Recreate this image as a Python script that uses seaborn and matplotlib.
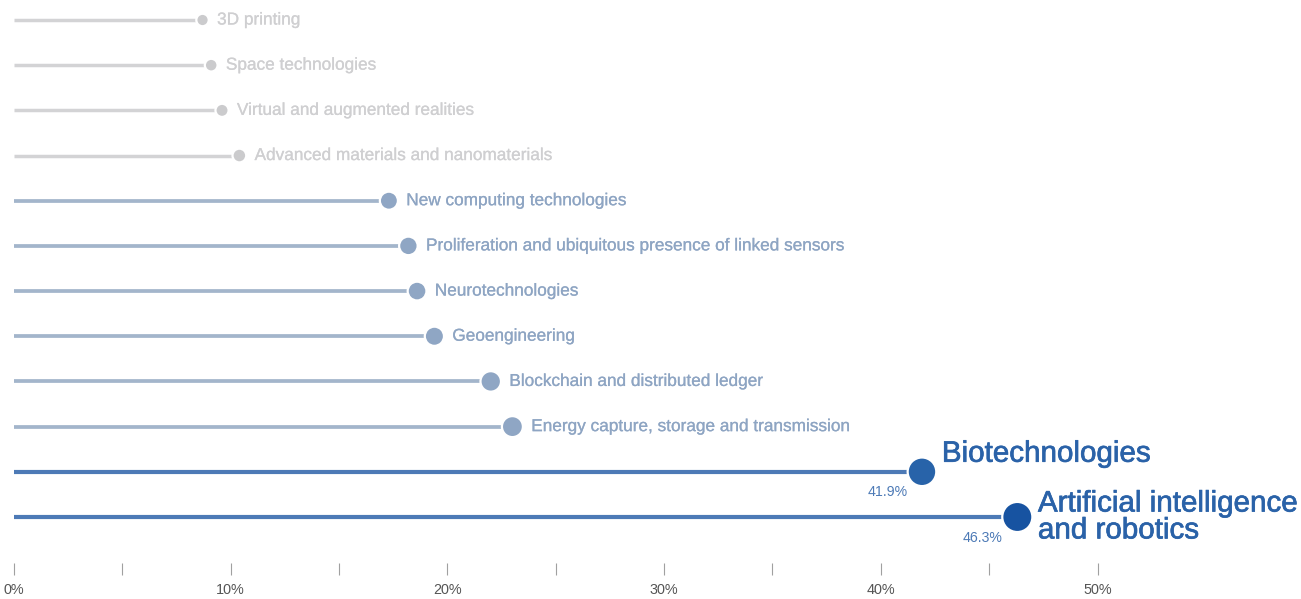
import numpy as np
import pandas as pd
import seaborn as sns
import matplotlib.pyplot as plt
import matplotlib.patheffects as pe

# data (share of respondents, %)
technologies = [
    "3D printing",
    "Space technologies",
    "Virtual and augmented realities",
    "Advanced materials and nanomaterials",
    "New computing technologies",
    "Proliferation and ubiquitous presence of linked sensors",
    "Neurotechnologies",
    "Geoengineering",
    "Blockchain and distributed ledger",
    "Energy capture, storage and transmission",
    "Biotechnologies",
    "Artificial intelligence\nand robotics",
]
shares = [8.7, 9.1, 9.6, 10.4, 17.3, 18.2, 18.6, 19.4, 22.0, 23.0, 41.9, 46.3]
groups = ["minor"] * 4 + ["middle"] * 6 + ["top", "lead"]
value_labels = {"Biotechnologies": "41.9%", "Artificial intelligence\nand robotics": "46.3%"}
x_ticks = [0, 5, 10, 15, 20, 25, 30, 35, 40, 45, 50]
x_tick_labels = ["0%", "", "10%", "", "20%", "", "30%", "", "40%", "", "50%"]

df = pd.DataFrame({"tech": technologies, "share": shares, "group": groups})
df["row"] = np.arange(len(df))

dot_colors = {"minor": "#cbcbcd", "middle": "#8fa6c4", "top": "#2863a9", "lead": "#1753a1"}
line_colors = {"minor": "#d3d3d5", "middle": "#a3b5cb", "top": "#4d7ab6", "lead": "#4d7ab6"}
line_widths = {"minor": 2.5, "middle": 2.7, "top": 3.0, "lead": 3.0}
text_colors = {"minor": "#cfcfd1", "middle": "#8ea5c3", "top": "#2a62a8", "lead": "#2a62a8"}

size_range = (80, 470)

sns.set_theme(style="white")
plt.rcParams["font.family"] = ["Liberation Sans", "DejaVu Sans"]

fig = plt.figure(figsize=(13.01, 5.99), dpi=100)
ax = fig.add_axes([0, 36 / 599, 1, 563 / 599])

# stems
for _, r in df.iterrows():
    ax.hlines(r["row"], 0, r["share"], color=line_colors[r["group"]],
              linewidth=line_widths[r["group"]], zorder=1)

# dots (white edge gives the small gap after each stem)
sns.scatterplot(data=df, x="share", y="row", hue="group", palette=dot_colors,
                size="share", sizes=size_range, legend=False,
                edgecolor="white", linewidth=1.6, zorder=3, ax=ax)

# labels
vmin, vmax = min(shares), max(shares)
for _, r in df.iterrows():
    area = np.interp(r["share"], [vmin, vmax], size_range)
    rad = np.sqrt(area) / 2  # points
    big = r["group"] in ("top", "lead")
    dy = 13 if r["group"] == "top" else 0
    col = text_colors[r["group"]]
    ax.annotate(r["tech"], (r["share"], r["row"]),
                xytext=(rad + (4 if big else 6), dy), textcoords="offset points",
                ha="left", va="center", fontsize=21.3 if big else 12.4,
                color=col, linespacing=0.95,
                path_effects=[pe.withStroke(linewidth=0.5 if big else 0.15, foreground=col)])
    if r["tech"] in value_labels:
        ax.annotate(value_labels[r["tech"]], (r["share"], r["row"]),
                    xytext=(-rad, -rad - 4), textcoords="offset points",
                    ha="right", va="center", fontsize=10.2, color="#4d7ab6")

ax.set_xlim(-14 / 21.67, (1301 - 14) / 21.67)
ax.set_ylim((563 - 20) / 45.18, -20 / 45.18)
ax.set_xticks(x_ticks)
ax.set_xticklabels(x_tick_labels)
ax.set_yticks([])
ax.set_xlabel("")
ax.set_ylabel("")
ax.tick_params(axis="x", direction="out", length=8.6, width=0.8, color="#a0a0a0",
               labelsize=10.4, labelcolor="#555555", pad=6, bottom=True)
for s in ax.spines.values():
    s.set_visible(False)

fig.savefig("out.png", dpi=100)
